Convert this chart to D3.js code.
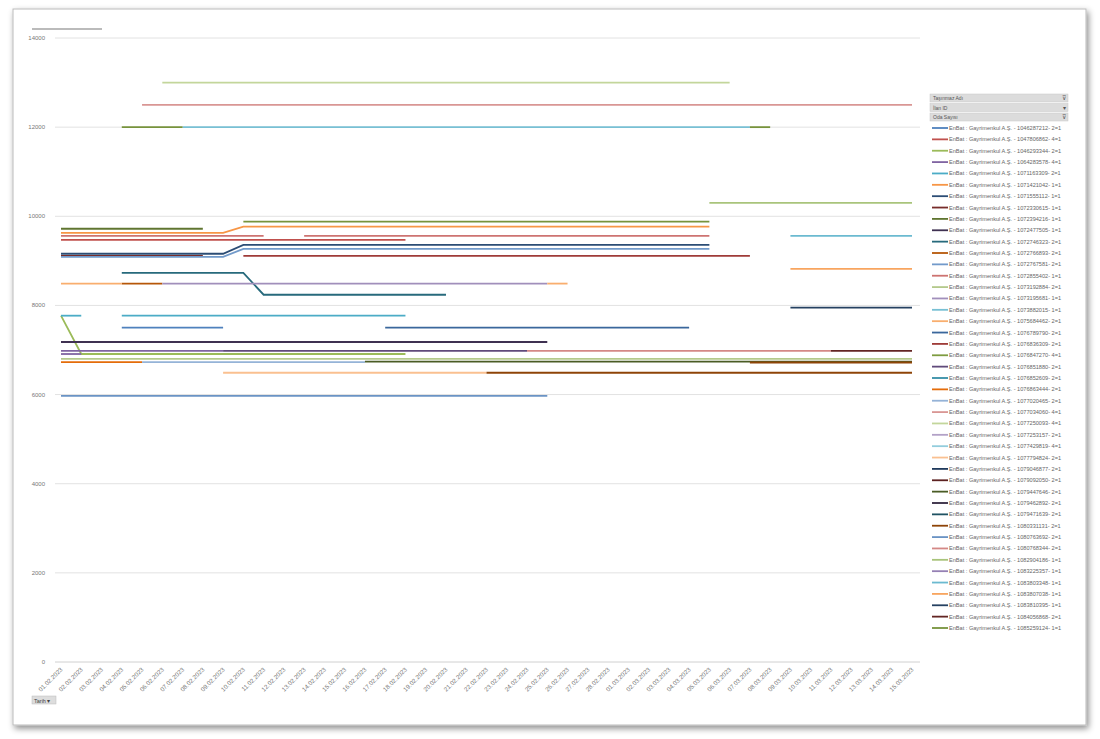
<!DOCTYPE html>
<html><head><meta charset="utf-8">
<script src="https://cdn.jsdelivr.net/npm/d3@7/dist/d3.min.js"></script>
<style>body{margin:0;background:#fff;font-family:"Liberation Sans",Arial,sans-serif}</style>
</head><body><svg id="c" width="1100" height="739"></svg>
<script>
// ---- data ----
const dates = [];
const feb = ["01","02","03","04","05","06","07","08","09","10","11","12","13","14","15","16","17","18","19","20","21","22","23","24","25","26","27","28"];
const mar = ["01","02","03","04","05","06","07","08","09","10","11","12","13","14","15"];
feb.forEach(d=>dates.push(d+".02.2023"));
mar.forEach(d=>dates.push(d+".03.2023"));
const yTicks = [0,2000,4000,6000,8000,10000,12000,14000];

const seriesNames = [
"1046287212- 2=1","1047806862- 4=1","1046293344- 2=1","1064283578- 4=1","1071163309- 2=1","1071421042- 1=1",
"1071555112- 1=1","1072330615- 1=1","1072394216- 1=1","1072477505- 1=1","1072746323- 2=1","1072766893- 2=1",
"1072767581- 2=1","1072855402- 1=1","1073192884- 2=1","1073195681- 1=1","1073882015- 1=1","1075684462- 2=1",
"1076789790- 2=1","1076836309- 2=1","1076847270- 4=1","1076851880- 2=1","1076852609- 2=1","1076863444- 2=1",
"1077020465- 2=1","1077034060- 4=1","1077250093- 4=1","1077253157- 2=1","1077429819- 4=1","1077794824- 2=1",
"1079046877- 2=1","1079092050- 2=1","1079447646- 2=1","1079462892- 2=1","1079471639- 2=1","1080331131- 2=1",
"1080763692- 2=1","1080768344- 2=1","1082904186- 1=1","1083225357- 1=1","1083803348- 1=1","1083807038- 1=1",
"1083810395- 1=1","1084056868- 2=1","1085259124- 1=1"];
const seriesColors = [
"#4f81bd","#c0504d","#9bbb59","#8064a2","#4bacc6","#f79646",
"#2c4d75","#772c2a","#5f7530","#3f3151","#276a7c","#b65708",
"#729aca","#cd7371","#b4c98b","#a18fbb","#78c0d4","#f9ae6e",
"#3a679c","#9f3b38","#7e9c40","#604a7b","#358ea6","#e46c0a",
"#95b3d7","#d99694","#c3d69b","#b3a2c7","#93cddd","#fac090",
"#1f3a5c","#5c2120","#4a5c25","#31263f","#1f5262","#8e4407",
"#6a93c4","#d48886","#a9c47b","#9580b4","#6bbad0","#f8a55f",
"#254161","#632523","#77933c"];
// line segments per series index: [dateIndex, value]
const seriesSegs = {
  26:[[[5,13000],[33,13000]]],
  25:[[[4,12500],[42,12500]]],
  44:[[[3,12000],[6,12000]],[[34,12000],[35,12000]],[[9,9880],[32,9880]]],
  16:[[[6,12000],[34,12000]]],
  38:[[[32,10300],[42,10300]]],
  40:[[[36,9560],[42,9560]]],
  41:[[[36,8820],[42,8820]]],
  42:[[[36,7950],[42,7950]]],
  8:[[[0,9720],[7,9720]]],
  5:[[[0,9630],[8,9630],[9,9770],[32,9770]]],
  13:[[[0,9560],[10,9560]],[[12,9560],[32,9560]]],
  1:[[[0,9470],[17,9470]]],
  6:[[[0,9160],[8,9160],[9,9360],[32,9360]]],
  12:[[[0,9090],[8,9090],[9,9270],[32,9270]]],
  7:[[[0,9110],[7,9110]]],
  19:[[[9,9110],[34,9110]]],
  10:[[[3,8730],[9,8730],[10,8240],[19,8240]]],
  17:[[[0,8490],[3,8490]],[[24,8490],[25,8490]]],
  11:[[[3,8490],[5,8490]]],
  15:[[[5,8490],[24,8490]]],
  4:[[[0,7770],[1,7770]],[[3,7770],[17,7770]]],
  0:[[[3,7500],[8,7500]]],
  18:[[[16,7500],[31,7500]]],
  9:[[[0,7180],[24,7180]]],
  3:[[[0,6980],[8,6980]],[[0,6910],[1,6910]]],
  21:[[[8,6980],[23,6980]]],
  37:[[[23,6980],[38,6980]]],
  43:[[[38,6980],[42,6980]]],
  2:[[[0,7770],[1,6910],[17,6910]]],
  14:[[[0,6800],[42,6800]]],
  23:[[[0,6730],[4,6730]]],
  24:[[[4,6730],[15,6730]]],
  32:[[[15,6740],[42,6740]]],
  35:[[[34,6720],[42,6720]],[[21,6490],[42,6490]]],
  29:[[[8,6490],[21,6490]]],
  36:[[[0,5970],[24,5970]]]
};

// ---- drawing ----
const svg = d3.select("#c");
const defs = svg.append("defs");
const f = defs.append("filter").attr("id","sh").attr("x","-5%").attr("y","-5%").attr("width","110%").attr("height","110%");
f.append("feDropShadow").attr("dx",2).attr("dy",3).attr("stdDeviation",3).attr("flood-color","#000").attr("flood-opacity",0.45);
svg.append("rect").attr("x",13).attr("y",9).attr("width",1073).attr("height",716).attr("fill","#fff").attr("stroke","#bbb").attr("filter","url(#sh)");

const x = d3.scalePoint().domain(d3.range(dates.length)).range([61,912]);
const y = d3.scaleLinear().domain([0,14000]).range([662,38]);

const g = svg.append("g");
g.selectAll("line.grid").data(yTicks).join("line").attr("class","grid")
 .attr("x1",55).attr("x2",920).attr("y1",d=>y(d)).attr("y2",d=>y(d))
 .attr("stroke",d=>d===0?"#d0d0d0":"#e2e2e2").attr("stroke-width",1);
g.selectAll("text.yl").data(yTicks).join("text").attr("class","yl")
 .attr("x",45).attr("y",d=>y(d)+2).attr("text-anchor","end").attr("font-size",6).attr("fill","#777").text(d=>d);

g.selectAll("text.xl").data(dates).join("text").attr("class","xl")
 .attr("transform",(d,i)=>`translate(${x(i)+2},${670}) rotate(-45)`)
 .attr("text-anchor","end").attr("font-size",6.2).attr("fill","#777").text(d=>d);

const line = d3.line().x(d=>x(d[0])).y(d=>y(d[1]));
Object.keys(seriesSegs).forEach(k=>{
  seriesSegs[k].forEach(seg=>{
    g.append("path").attr("d",line(seg)).attr("fill","none").attr("stroke",seriesColors[k]).attr("stroke-width",1.8);
  });
});

// filter buttons
svg.append("rect").attr("x",32).attr("y",28).attr("width",70).attr("height",2).attr("fill","#bbb");
const tb = svg.append("g");
tb.append("rect").attr("x",32).attr("y",696).attr("width",24).attr("height",8).attr("fill","#ddd").attr("stroke","#bbb").attr("stroke-width",0.5);
tb.append("text").attr("x",34).attr("y",702.5).attr("font-size",5.5).attr("fill","#444").text("Tarih ▾");

// legend
const lg = svg.append("g");
const hdr = ["Taşınmaz Adı","İlan ID","Oda Sayısı"];
hdr.forEach((h,i)=>{
  lg.append("rect").attr("x",930).attr("y",94+i*9.5).attr("width",138).attr("height",8).attr("fill","#dcdcdc").attr("stroke","#c8c8c8").attr("stroke-width",0.5);
  lg.append("text").attr("x",933).attr("y",100+i*9.5).attr("font-size",5).attr("fill","#555").text(h);
  lg.append("text").attr("x",1066).attr("y",100+i*9.5).attr("text-anchor","end").attr("font-size",6).attr("fill","#555").text(i===1?"▾":"⊽");
});
const ly = d3.scaleLinear().domain([0,seriesNames.length-1]).range([128,628]);
seriesNames.forEach((n,i)=>{
  lg.append("line").attr("x1",932).attr("x2",948).attr("y1",ly(i)).attr("y2",ly(i)).attr("stroke",seriesColors[i]).attr("stroke-width",1.8);
  lg.append("text").attr("x",949).attr("y",ly(i)+2).attr("font-size",5.6).attr("fill","#666")
    .text("EnBat : Gayrimenkul A.Ş. - "+n);
});
</script></body></html>
